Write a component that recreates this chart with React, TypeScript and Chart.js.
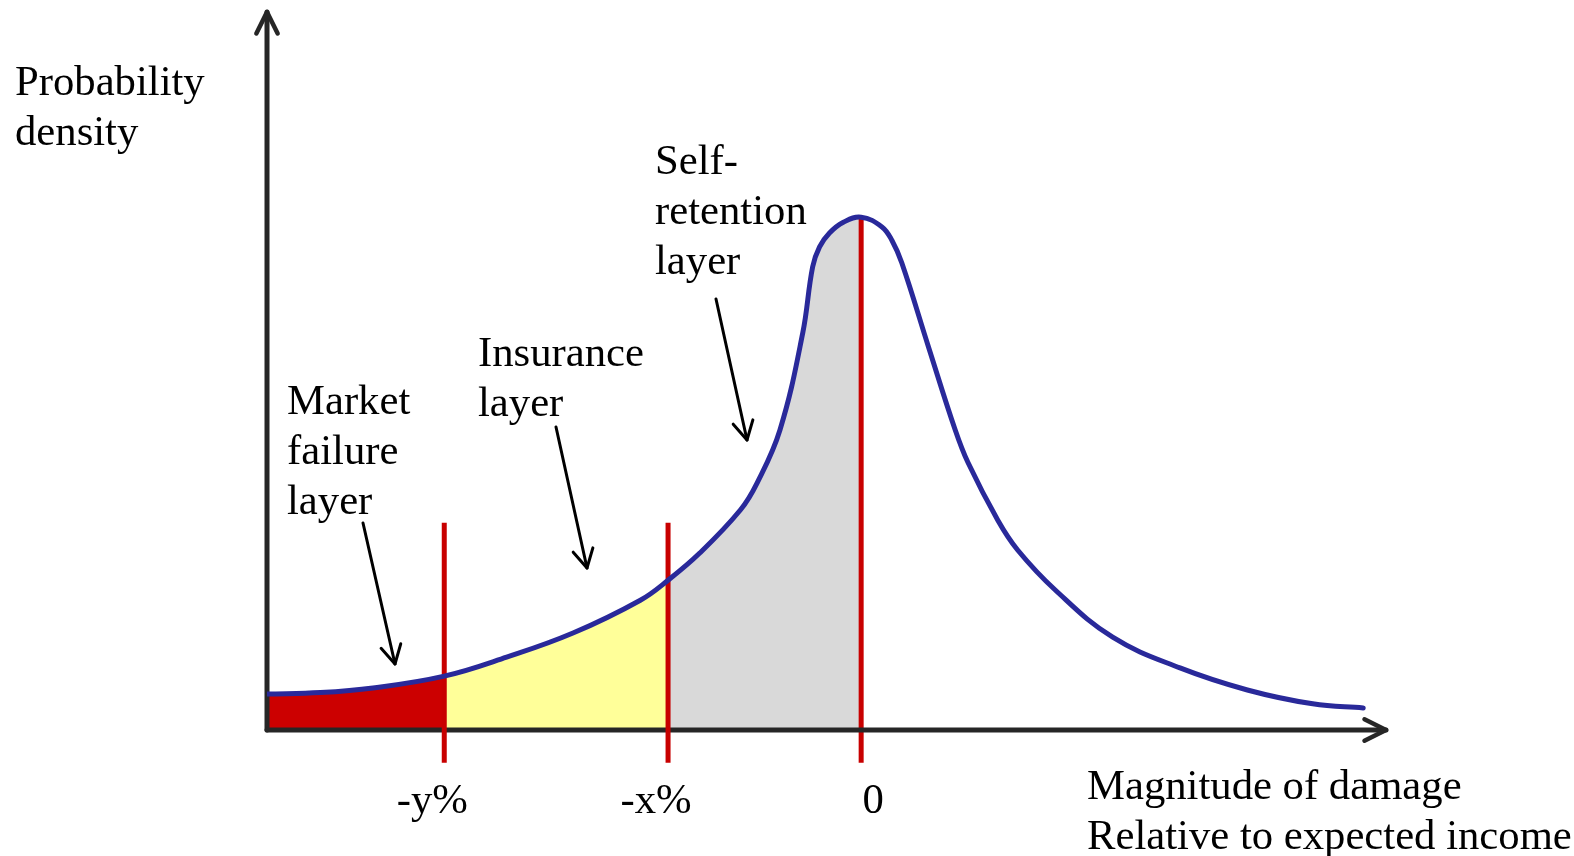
import React, { useEffect, useRef } from "react";
import { Chart, registerables } from "chart.js";

Chart.register(...registerables);

// Density curve (x: magnitude of damage relative to expected income, y: probability density)
const curveX = [
  -6.0, -5.46, -4.93, -4.21, -3.58, -2.91, -2.23, -1.95, -1.63, -1.22, -1.05, -0.82, -0.59, -0.49,
  -0.42, -0.32, -0.18, 0.0, 0.21, 0.31, 0.41, 0.68, 0.95, 1.08, 1.38, 1.58, 1.96, 2.54, 3.22, 3.9,
  4.56, 5.07,
];
const curveY = [
  0.07, 0.073, 0.082, 0.105, 0.142, 0.189, 0.253, 0.292, 0.345, 0.429, 0.482, 0.585, 0.774, 0.903,
  0.942, 0.969, 0.99, 1.0, 0.981, 0.955, 0.911, 0.747, 0.585, 0.521, 0.409, 0.351, 0.273, 0.181,
  0.121, 0.078, 0.051, 0.043,
];

// Layer boundaries and their tick labels
const boundaryX = [-4.21, -1.95, 0];
const tickLabels = ["-y%", "-x%", "0"];
const boundaryTop = [0.404, 0.404, 1.0];
const boundaryBottom = -0.064;

// Layers (fills)
const layerNames = ["Market failure layer", "Insurance layer", "Self-retention layer"];
const layerColors = ["#cc0000", "#ffff99", "#d9d9d9"];

const X_MIN = -6;
const X_MAX = 5.3;
const Y_MIN = 0;
const Y_MAX = 1.4;

const FONT = "42.7px 'Liberation Serif', 'Times New Roman', serif";

const textBlocks = [
  { lines: ["Probability", "density"], x: 15, y: 95 },
  { lines: ["Self-", "retention", "layer"], x: 655, y: 174 },
  { lines: ["Insurance", "layer"], x: 478, y: 366 },
  { lines: ["Market", "failure", "layer"], x: 287, y: 414 },
  { lines: ["Magnitude of damage", "Relative to expected income"], x: 1087, y: 799 },
];

const pointerArrows = [
  { x1: 363, y1: 523, x2: 395, y2: 664 },
  { x1: 556, y1: 427, x2: 587, y2: 568 },
  { x1: 716, y1: 299, x2: 747, y2: 440 },
];

const tickOffsets = [-12, -12, 12];

function arrowHead(ctx: CanvasRenderingContext2D, x1: number, y1: number, x2: number, y2: number, len: number, half: number) {
  const a = Math.atan2(y2 - y1, x2 - x1);
  ctx.beginPath();
  ctx.moveTo(x2 - len * Math.cos(a - half), y2 - len * Math.sin(a - half));
  ctx.lineTo(x2, y2);
  ctx.lineTo(x2 - len * Math.cos(a + half), y2 - len * Math.sin(a + half));
  ctx.stroke();
}

function layerColorAt(x: number): string {
  for (let i = 0; i < boundaryX.length; i++) {
    if (x < boundaryX[i] - 1e-9) return layerColors[i];
  }
  return "rgba(0,0,0,0)";
}

export default function App() {
  const ref = useRef<HTMLCanvasElement | null>(null);

  useEffect(() => {
    if (!ref.current) return;
    const pts = curveX.map((x, i) => ({ x, y: curveY[i] }));

    const redSets = boundaryX.map((bx, i) => ({
      label: tickLabels[i],
      data: [
        { x: bx, y: boundaryBottom },
        { x: bx, y: boundaryTop[i] },
      ],
      borderColor: "#c80000",
      borderWidth: 5,
      pointRadius: 0,
      fill: false,
      clip: false as const,
      order: 1,
    }));

    const axisPlugin = {
      id: "axesAndNotes",
      afterDatasetDraw(chart: any, args: any) {
        // draw axes after the filled curve, before the red boundary lines
        if (args.index !== 3) return;
        const ctx = chart.ctx as CanvasRenderingContext2D;
        const xs = chart.scales.x;
        const ys = chart.scales.y;
        const ox = xs.getPixelForValue(X_MIN);
        const oy = ys.getPixelForValue(0);
        const xr = xs.getPixelForValue(X_MAX);
        const yt = ys.getPixelForValue(Y_MAX);
        ctx.save();
        ctx.strokeStyle = "#262626";
        ctx.lineWidth = 5;
        ctx.lineCap = "round";
        ctx.lineJoin = "round";
        ctx.beginPath();
        ctx.moveTo(ox, oy);
        ctx.lineTo(ox, yt);
        ctx.stroke();
        ctx.beginPath();
        ctx.moveTo(ox, oy);
        ctx.lineTo(xr, oy);
        ctx.stroke();
        ctx.lineWidth = 4.5;
        arrowHead(ctx, ox, oy, ox, yt, 24, 0.46);
        arrowHead(ctx, ox, oy, xr, oy, 24, 0.46);
        ctx.restore();
      },
      afterDraw(chart: any) {
        const ctx = chart.ctx as CanvasRenderingContext2D;
        const xs = chart.scales.x;
        const ys = chart.scales.y;
        ctx.save();
        ctx.fillStyle = "#000";
        ctx.font = FONT;
        ctx.textBaseline = "alphabetic";
        ctx.textAlign = "left";
        textBlocks.forEach((b) => {
          b.lines.forEach((ln, j) => ctx.fillText(ln, b.x, b.y + j * 50));
        });
        ctx.textAlign = "center";
        const base = ys.getPixelForValue(0) + 83;
        boundaryX.forEach((bx, i) => {
          ctx.fillText(tickLabels[i], xs.getPixelForValue(bx) + tickOffsets[i], base);
        });
        ctx.strokeStyle = "#000";
        ctx.lineWidth = 3;
        ctx.lineCap = "round";
        ctx.lineJoin = "round";
        pointerArrows.forEach((a) => {
          ctx.beginPath();
          ctx.moveTo(a.x1, a.y1);
          ctx.lineTo(a.x2, a.y2);
          ctx.stroke();
          arrowHead(ctx, a.x1, a.y1, a.x2, a.y2, 21, 0.5);
        });
        ctx.restore();
      },
    };

    // filled area under the curve, coloured per layer (no border)
    const fillSet = {
      label: layerNames.join(" / "),
      data: pts,
      borderWidth: 0,
      borderColor: "rgba(0,0,0,0)",
      backgroundColor: "rgba(0,0,0,0)",
      fill: "origin",
      pointRadius: 0,
      tension: 0.4,
      order: 2,
      segment: {
        backgroundColor: (c: any) => layerColorAt(c.p0.parsed.x),
      },
    };

    const chart = new Chart(ref.current, {
      type: "line",
      data: {
        datasets: [
          {
            label: "Probability density",
            data: pts,
            borderColor: "#29299a",
            borderWidth: 5,
            pointRadius: 0,
            fill: false,
            tension: 0.4,
            borderCapStyle: "round",
            borderJoinStyle: "round",
            order: 0,
          } as any,
          ...redSets,
          fillSet as any,
        ],
      },
      options: {
        responsive: false,
        animation: false,
        events: [],
        layout: { padding: { left: 267, right: 188, top: 12, bottom: 126 } },
        scales: {
          x: { type: "linear", min: X_MIN, max: X_MAX, display: false },
          y: { type: "linear", min: Y_MIN, max: Y_MAX, display: false },
        },
        plugins: { legend: { display: false }, tooltip: { enabled: false } },
      },
      plugins: [axisPlugin],
    } as any);

    return () => chart.destroy();
  }, []);

  return (
    <div style={{ position: "fixed", left: 0, top: 0, width: 1574, height: 856, background: "#fff" }}>
      <canvas ref={ref} width={1574} height={856} style={{ display: "block", width: 1574, height: 856 }} />
    </div>
  );
}
